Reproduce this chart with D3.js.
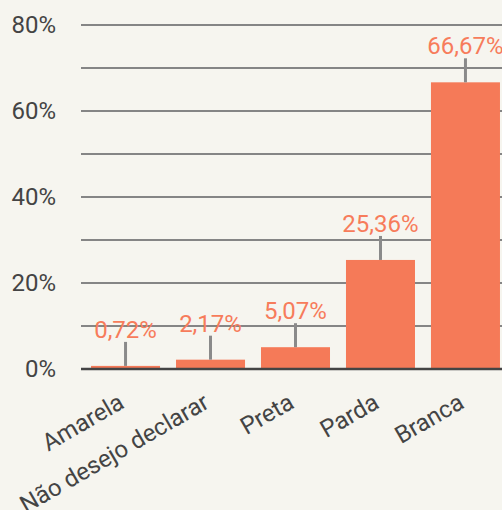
<!DOCTYPE html>
<html>
<head>
<meta charset="utf-8">
<script src="https://cdn.jsdelivr.net/npm/d3@7"></script>
<style>
  body { margin: 0; background: #f6f5ef; }
  svg { display: block; font-family: Roboto, sans-serif; }
</style>
</head>
<body>
<svg id="chart"></svg>
<script>
const categories = ['Amarela', 'Não desejo declarar', 'Preta', 'Parda', 'Branca'];
const values = [0.72, 2.17, 5.07, 25.36, 66.67];
const valueLabels = ['0,72%', '2,17%', '5,07%', '25,36%', '66,67%'];
const gridTicks = [0, 10, 20, 30, 40, 50, 60, 70, 80];
const labelTicks = [0, 20, 40, 60, 80];

const WIDTH = 502,
    HEIGHT = 510;

const svg = d3.select('svg#chart')
    .attr('width', WIDTH)
    .attr('height', HEIGHT);

svg.append('rect')
    .attr('width', WIDTH)
    .attr('height', HEIGHT)
    .attr('fill', '#f6f5ef');

const y = d3.scaleLinear()
    .domain([0, 80])
    .range([369, 25]);

const x = d3.scaleBand()
    .domain(categories)
    .range([81, 510])
    .paddingInner(0.188)
    .paddingOuter(0.118);

// gridlines
svg.append('g')
    .attr('class', 'grid')
    .selectAll('line')
    .data(gridTicks.filter(d => d > 0))
    .enter().append('line')
        .attr('x1', 81)
        .attr('x2', WIDTH)
        .attr('y1', d => y(d))
        .attr('y2', d => y(d))
        .attr('stroke', '#858585')
        .attr('stroke-width', 2.2);

// y labels
svg.append('g')
    .attr('class', 'ylabels')
    .selectAll('text')
    .data(labelTicks)
    .enter().append('text')
        .attr('x', 56)
        .attr('y', d => y(d))
        .attr('dy', '0.35em')
        .attr('text-anchor', 'end')
        .attr('fill', '#444')
        .attr('font-size', 24)
        .text(d => d + '%');

// bars
svg.append('g')
    .attr('class', 'bars')
    .selectAll('rect')
    .data(values)
    .enter().append('rect')
        .attr('x', (d, i) => x(categories[i]))
        .attr('width', x.bandwidth())
        .attr('y', d => y(d))
        .attr('height', d => y(0) - y(d))
        .attr('fill', '#f57a58');

// baseline
svg.append('line')
    .attr('x1', 81)
    .attr('x2', WIDTH)
    .attr('y1', y(0))
    .attr('y2', y(0))
    .attr('stroke', '#444')
    .attr('stroke-width', 2.7);

// leader lines
svg.append('g')
    .attr('class', 'leaders')
    .selectAll('line')
    .data(values)
    .enter().append('line')
        .attr('x1', (d, i) => x(categories[i]) + x.bandwidth() / 2)
        .attr('x2', (d, i) => x(categories[i]) + x.bandwidth() / 2)
        .attr('y1', d => y(d))
        .attr('y2', d => y(d) - 24)
        .attr('stroke', '#8a8a8a')
        .attr('stroke-width', 3);

// value labels
svg.append('g')
    .attr('class', 'values')
    .selectAll('text')
    .data(values)
    .enter().append('text')
        .attr('x', (d, i) => x(categories[i]) + x.bandwidth() / 2)
        .attr('y', d => y(d) - 28)
        .attr('text-anchor', 'middle')
        .attr('fill', '#f77c5b')
        .attr('font-size', 24)
        .text((d, i) => valueLabels[i]);

// x labels
svg.append('g')
    .attr('class', 'xlabels')
    .selectAll('text')
    .data(categories)
    .enter().append('text')
        .attr('transform', d => `translate(${x(d) + x.bandwidth() / 2}, 407) rotate(-30)`)
        .attr('text-anchor', 'end')
        .attr('fill', '#444')
        .attr('font-size', 24)
        .text(d => d);
</script>
</body>
</html>
